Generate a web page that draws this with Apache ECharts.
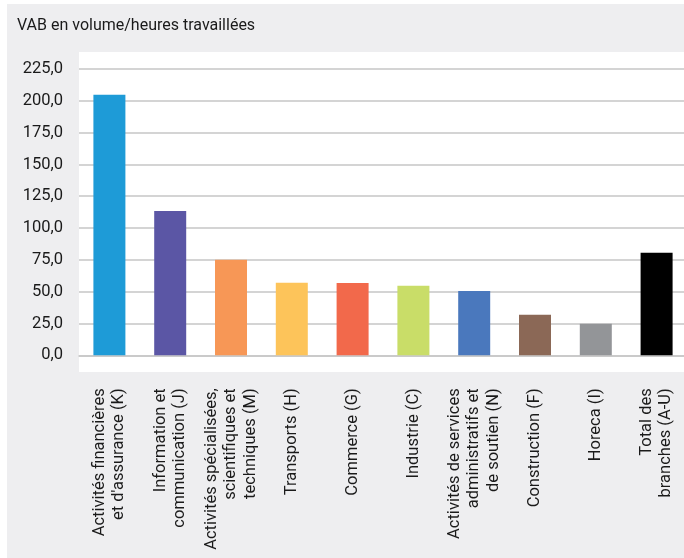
<!DOCTYPE html>
<html>
<head>
<meta charset="utf-8">
<script src="https://cdn.jsdelivr.net/npm/echarts@6/dist/echarts.min.js"></script>
<style>
html,body{margin:0;padding:0;background:#fff;}
#c{width:684px;height:558px;}
</style>
</head>
<body>
<div id="c"></div>
<script>
var categories = [
  "Activités financières\net d'assurance (K)",
  "Information et\ncommunication (J)",
  "Activités spécialisées,\nscientifiques et\ntechniques (M)",
  "Transports (H)",
  "Commerce (G)",
  "Industrie (C)",
  "Activités de services\nadministratifs et\nde soutien (N)",
  "Construction (F)",
  "Horeca (I)",
  "Total des\nbranches (A-U)"
];
var values = [204.8, 113.5, 75.0, 57.0, 56.9, 54.6, 50.6, 31.8, 24.7, 80.5];
var barColors = ["#1E9BD7", "#5B56A5", "#F79756", "#FDC45A", "#F2694B", "#C9DD68", "#4A78BD", "#8B6856", "#939598", "#000000"];
var yTicks = [0, 25, 50, 75, 100, 125, 150, 175, 200, 225];
var titleText = "VAB en volume/heures travaillées";

var FONT = "Roboto, 'Liberation Sans', sans-serif";
var chart = echarts.init(document.getElementById('c'), null, {renderer: 'canvas'});
chart.setOption({
  animation: false,
  backgroundColor: '#ffffff',
  graphic: [
    {type: 'rect', z: -10, silent: true, shape: {x: 7, y: 4, width: 677, height: 554}, style: {fill: '#EEEEF0'}},
    {type: 'rect', z: -9, silent: true, shape: {x: 79, y: 52, width: 605, height: 320}, style: {fill: '#ffffff'}}
  ],
  title: {
    text: titleText,
    left: 12, top: 13,
    textStyle: {fontFamily: FONT, fontSize: 16, fontWeight: 'normal', color: '#1a1a1a'}
  },
  grid: {left: 79, right: -3, top: 69, bottom: 202.7, containLabel: false, outerBoundsMode: 'none'},
  xAxis: {
    type: 'category',
    data: categories,
    axisLine: {show: true, lineStyle: {color: '#c6c6c6', width: 1.5}},
    axisTick: {show: false},
    axisLabel: {
      interval: 0, rotate: 90, margin: 33,
      fontFamily: FONT, fontSize: 16.5, lineHeight: 19.5, color: '#1a1a1a'
    }
  },
  yAxis: {
    type: 'value',
    min: yTicks[0], max: yTicks[yTicks.length - 1], interval: yTicks[1] - yTicks[0],
    axisLine: {show: false},
    axisTick: {show: false},
    splitLine: {lineStyle: {color: '#c6c6c6', width: 1.5}},
    axisLabel: {
      margin: 16,
      fontFamily: FONT, fontSize: 16.5, color: '#1a1a1a',
      formatter: function (v) { return v.toFixed(1).replace('.', ','); }
    }
  },
  series: [{
    type: 'bar',
    barWidth: 32,
    data: values.map(function (v, i) { return {value: v, itemStyle: {color: barColors[i]}}; })
  }]
});
</script>
</body>
</html>
